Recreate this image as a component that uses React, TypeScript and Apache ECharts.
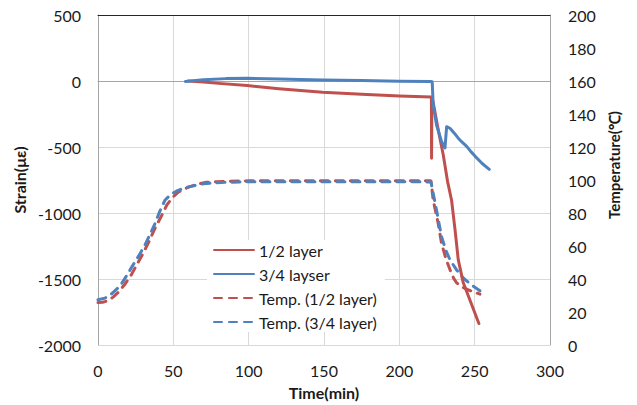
import React, { useEffect, useRef } from "react";
import * as echarts from "echarts";

// ---- Data ----
const xTicks = [0, 50, 100, 150, 200, 250, 300];

const strainHalfTime = [60, 70, 80, 99, 120, 149, 175, 200, 221.3, 221.4, 221.6, 222.5, 226, 229.1, 232, 234.7, 237, 239.1, 242.4, 247.6, 252.8];
const strainHalfVal = [0, -8, -18, -35, -58, -85, -100, -113, -122, -585, -130, -165, -380, -557, -760, -905, -1130, -1353, -1527, -1682, -1837];

const strainQuarterTime = [58, 70, 85, 99, 120, 149, 175, 200, 221, 221.8, 222.5, 224.7, 228, 230.3, 231.4, 233.6, 236.5, 239.1, 241.5, 244.7, 247.5, 250.2, 255, 259.7];
const strainQuarterVal = [-3, 10, 18, 20, 15, 7, 3, -2, -4, -5, -184, -333, -457, -507, -346, -358, -395, -433, -462, -495, -535, -569, -625, -669];

const tempHalfTime = [0, 3, 6.6, 10, 13.2, 18, 22.2, 26, 30, 34, 37.8, 42, 45.6, 49, 53.3, 57, 61, 66, 72, 85, 100, 150, 200, 221, 222.5, 225.8, 228, 231, 233.6, 236, 238, 241, 244.7, 249, 253.5];
const tempHalfVal = [25.7, 25.9, 26.8, 29, 31.7, 37, 42.7, 49, 55.7, 63, 70.7, 78, 84.7, 89, 92.6, 94.5, 96, 97.5, 98.6, 99.2, 99.5, 99.5, 99.5, 99.6, 87.7, 73.7, 61.7, 52, 45.7, 40.5, 37.7, 35.5, 33.8, 32.3, 30.8];

const tempQuarterTime = [0, 4.6, 9, 14.6, 19, 23.4, 27, 31.2, 34.5, 37.8, 41, 44.4, 48, 52, 56, 61, 70, 85, 100, 150, 200, 221, 224.7, 228, 231, 233.6, 238, 242.4, 246, 249, 255.3];
const tempQuarterVal = [27.4, 28.4, 31, 35.7, 42, 48.7, 54, 60.7, 67, 73.6, 81, 87.7, 91, 93.2, 94.8, 96, 97.8, 98.6, 99, 99, 99, 98.8, 81.7, 65.7, 57, 51.7, 45.5, 40.7, 37.8, 35.7, 31.7];

const seriesNames = ["1/2 layer", "3/4 layser", "Temp. (1/2 layer)", "Temp. (3/4 layer)"];

const RED = "#C0504D";
const BLUE = "#4F81BD";
const FONT = "Lato";
const TXT = "#1a1a1a";

const zip = (a: number[], b: number[]) => a.map((v, i) => [v, b[i]]);

export default function App() {
  const ref = useRef<HTMLDivElement>(null);
  useEffect(() => {
    document.body.style.margin = "0";
    if (!ref.current) return;
    const chart = echarts.init(ref.current, undefined, { renderer: "svg" });
    const solid = (color: string) => ({ color, width: 3, cap: "round" as const, join: "round" as const });
    const dashed = (color: string) => ({ color, width: 3, type: [8, 7], cap: "round" as const });
    chart.setOption({
      animation: false,
      backgroundColor: "#fff",
      textStyle: { fontFamily: FONT },
      grid: { left: 98, right: 87, top: 15, bottom: 55, show: false },
      legend: {
        orient: "vertical",
        left: 207,
        top: 240,
        itemWidth: 40,
        itemHeight: 12,
        itemGap: 8,
        padding: [2, 8, 2, 6],
        backgroundColor: "#fff",
        itemStyle: { opacity: 0 },
        data: seriesNames,
        textStyle: { fontFamily: FONT, fontSize: 16, color: TXT },
      },
      xAxis: [
        {
          type: "value",
          min: xTicks[0],
          max: xTicks[xTicks.length - 1],
          interval: 50,
          name: "Time(min)",
          nameLocation: "middle",
          nameGap: 39,
          nameTextStyle: { fontFamily: FONT, fontSize: 16, fontWeight: "bold", color: TXT },
          axisLine: { show: true, lineStyle: { color: "#a6a6a6", width: 1 } },
          axisTick: { show: false },
          axisLabel: { fontFamily: FONT, fontSize: 16, color: TXT, margin: 17 },
          splitLine: { show: true, lineStyle: { color: "#d9d9d9", width: 1 } },
        },
        {
          type: "value",
          position: "top",
          min: 0,
          max: 300,
          axisLine: { show: true, onZero: false, lineStyle: { color: "#262626", width: 1 } },
          axisTick: { show: false },
          axisLabel: { show: false },
          splitLine: { show: false },
        },
      ],
      yAxis: [
        {
          type: "value",
          min: -2000,
          max: 500,
          interval: 500,
          name: "Strain(με)",
          nameLocation: "middle",
          nameGap: 66,
          nameRotate: 90,
          nameTextStyle: { fontFamily: FONT, fontSize: 16, fontWeight: "bold", color: TXT },
          axisLine: { show: true, onZero: false, lineStyle: { color: "#a6a6a6", width: 1 } },
          axisTick: { show: false },
          axisLabel: { fontFamily: FONT, fontSize: 16, color: TXT, margin: 17, formatter: (v: number) => String(v) },
          splitLine: { show: true, lineStyle: { color: "#d9d9d9", width: 1 } },
        },
        {
          type: "value",
          position: "right",
          min: 0,
          max: 200,
          interval: 20,
          name: "Temperature(℃)",
          nameLocation: "middle",
          nameGap: 56,
          nameRotate: 90,
          nameTextStyle: { fontFamily: FONT, fontSize: 15, fontWeight: "bold", color: TXT, padding: [0, 0, 0, 30] },
          axisLine: { show: true, onZero: false, lineStyle: { color: "#a6a6a6", width: 1 } },
          axisTick: { show: false },
          axisLabel: { fontFamily: FONT, fontSize: 16, color: TXT, margin: 18 },
          splitLine: { show: false },
        },
      ],
      series: [
        {
          name: seriesNames[0],
          type: "line",
          xAxisIndex: 0,
          yAxisIndex: 0,
          showSymbol: false,
          symbol: "none",
          data: zip(strainHalfTime, strainHalfVal),
          lineStyle: solid(RED),
          itemStyle: { color: RED },
          z: 3,
        },
        {
          name: seriesNames[1],
          type: "line",
          xAxisIndex: 0,
          yAxisIndex: 0,
          showSymbol: false,
          symbol: "none",
          data: zip(strainQuarterTime, strainQuarterVal),
          lineStyle: solid(BLUE),
          itemStyle: { color: BLUE },
          z: 4,
        },
        {
          name: seriesNames[2],
          type: "line",
          xAxisIndex: 0,
          yAxisIndex: 1,
          showSymbol: false,
          symbol: "none",
          data: zip(tempHalfTime, tempHalfVal),
          lineStyle: dashed(RED),
          itemStyle: { color: RED },
          z: 2,
        },
        {
          name: seriesNames[3],
          type: "line",
          xAxisIndex: 0,
          yAxisIndex: 1,
          showSymbol: false,
          symbol: "none",
          data: zip(tempQuarterTime, tempQuarterVal),
          lineStyle: dashed(BLUE),
          itemStyle: { color: BLUE },
          z: 2,
        },
      ],
    });
    return () => chart.dispose();
  }, []);
  return <div ref={ref} style={{ width: 637, height: 405 }} />;
}
